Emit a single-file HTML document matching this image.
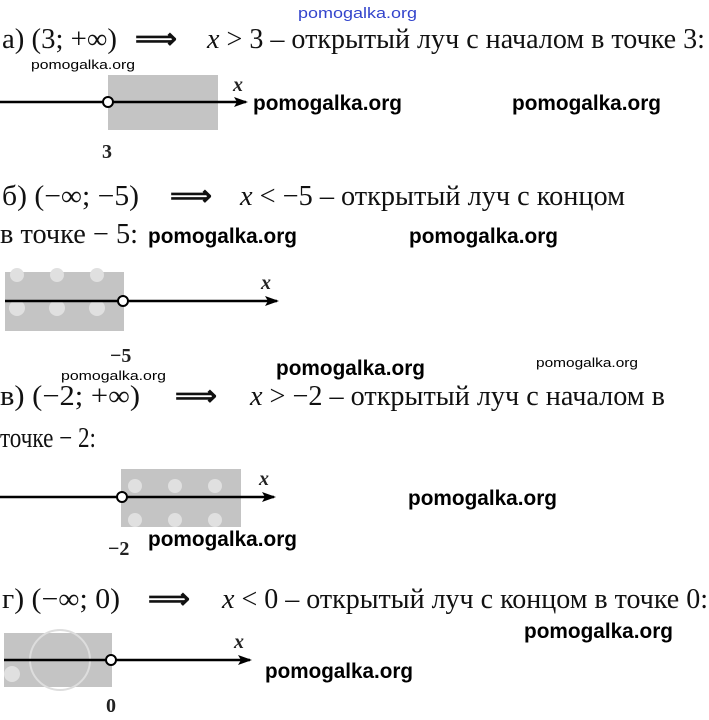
<!DOCTYPE html>
<html><head><meta charset="utf-8"><style>
html,body{margin:0;padding:0;background:#fff;width:709px;height:720px;overflow:hidden}
svg{display:block}
.t{font-family:"Liberation Serif",serif;font-size:28px;fill:#111}
.w{font-family:"Liberation Sans",sans-serif;font-size:21px;font-weight:bold;fill:#000}
.s{font-family:"Liberation Sans",sans-serif;font-size:13px;fill:#000}
.m{font-family:"Liberation Serif",serif;font-size:20px;font-style:italic;font-weight:bold;fill:#222}
.n{font-family:"Liberation Serif",serif;font-size:20px;font-weight:bold;fill:#222}
</style></head><body>
<svg width="709" height="720" xmlns="http://www.w3.org/2000/svg">
<defs><marker id="ar" markerWidth="14" markerHeight="10" refX="12" refY="5" orient="auto" markerUnits="userSpaceOnUse"><path d="M0,0 L14,5 L0,10 L3,5z" fill="#000"/></marker></defs>
<text x="298" y="18" font-family="Liberation Sans,sans-serif" font-size="15" fill="#3344cc" textLength="119" lengthAdjust="spacingAndGlyphs">pomogalka.org</text>

<!-- a -->
<text class="t" x="2" y="48" textLength="115" lengthAdjust="spacingAndGlyphs">а) (3; +∞)</text>
<text class="t" x="135" y="48" textLength="42" lengthAdjust="spacingAndGlyphs" font-weight="bold">⟹</text>
<text class="t" x="207" y="48" textLength="498" lengthAdjust="spacingAndGlyphs"><tspan font-style="italic">x</tspan> &gt; 3 – открытый луч с началом в точке 3:</text>
<text class="s" x="31" y="69" textLength="104" lengthAdjust="spacingAndGlyphs">pomogalka.org</text>
<rect x="108" y="75" width="110" height="55" fill="#c4c4c4"/>
<line x1="0" y1="102" x2="246" y2="102" stroke="#000" stroke-width="2.5" marker-end="url(#ar)"/>
<circle cx="108" cy="102" r="5" fill="#fff" stroke="#000" stroke-width="2"/>
<text class="m" x="233" y="91">x</text>
<text class="n" x="102" y="158">3</text>
<text class="w" x="253" y="110" textLength="149" lengthAdjust="spacingAndGlyphs">pomogalka.org</text>
<text class="w" x="512" y="110" textLength="149" lengthAdjust="spacingAndGlyphs">pomogalka.org</text>

<!-- b -->
<text class="t" x="2" y="205" textLength="137" lengthAdjust="spacingAndGlyphs">б) (−∞; −5)</text>
<text class="t" x="170" y="205" textLength="42" lengthAdjust="spacingAndGlyphs" font-weight="bold">⟹</text>
<text class="t" x="240" y="205" textLength="385" lengthAdjust="spacingAndGlyphs"><tspan font-style="italic">x</tspan> &lt; −5 – открытый луч с концом</text>
<text class="t" x="0" y="243" textLength="138" lengthAdjust="spacingAndGlyphs">в точке − 5:</text>
<text class="w" x="148" y="243" textLength="149" lengthAdjust="spacingAndGlyphs">pomogalka.org</text>
<text class="w" x="409" y="243" textLength="149" lengthAdjust="spacingAndGlyphs">pomogalka.org</text>
<rect x="5" y="272" width="119" height="59" fill="#c4c4c4"/>
<g fill="#e0e0e0"><circle cx="17" cy="275" r="7"/><circle cx="57" cy="275" r="7"/><circle cx="97" cy="275" r="7"/><circle cx="17" cy="308" r="8"/><circle cx="57" cy="308" r="8"/><circle cx="97" cy="308" r="8"/></g>
<line x1="5" y1="301" x2="277" y2="301" stroke="#000" stroke-width="2.5" marker-end="url(#ar)"/>
<circle cx="123" cy="301" r="5" fill="#fff" stroke="#000" stroke-width="2"/>
<text class="m" x="261" y="289">x</text>
<text class="n" x="110" y="362">−5</text>
<text class="w" x="276" y="375" textLength="149" lengthAdjust="spacingAndGlyphs">pomogalka.org</text>
<text class="s" x="536" y="367" textLength="102" lengthAdjust="spacingAndGlyphs">pomogalka.org</text>
<text class="s" x="61" y="380" textLength="105" lengthAdjust="spacingAndGlyphs">pomogalka.org</text>

<!-- c -->
<text class="t" x="0" y="405" textLength="140" lengthAdjust="spacingAndGlyphs">в) (−2; +∞)</text>
<text class="t" x="175" y="405" textLength="42" lengthAdjust="spacingAndGlyphs" font-weight="bold">⟹</text>
<text class="t" x="250" y="405" textLength="415" lengthAdjust="spacingAndGlyphs"><tspan font-style="italic">x</tspan> &gt; −2 – открытый луч с началом в</text>
<text class="t" x="0" y="447" textLength="96" lengthAdjust="spacingAndGlyphs">точке − 2:</text>
<rect x="121" y="469" width="120" height="58" fill="#c4c4c4"/>
<g fill="#e0e0e0"><circle cx="135" cy="486" r="7"/><circle cx="175" cy="486" r="7"/><circle cx="215" cy="486" r="7"/><circle cx="135" cy="520" r="7"/><circle cx="175" cy="520" r="7"/><circle cx="215" cy="520" r="7"/></g>
<line x1="0" y1="497" x2="274" y2="497" stroke="#000" stroke-width="2.5" marker-end="url(#ar)"/>
<circle cx="122" cy="497" r="5" fill="#fff" stroke="#000" stroke-width="2"/>
<text class="m" x="259" y="485">x</text>
<text class="n" x="108" y="555">−2</text>
<text class="w" x="408" y="505" textLength="149" lengthAdjust="spacingAndGlyphs">pomogalka.org</text>
<text class="w" x="148" y="546" textLength="149" lengthAdjust="spacingAndGlyphs">pomogalka.org</text>

<!-- d -->
<text class="t" x="2" y="608" textLength="118" lengthAdjust="spacingAndGlyphs">г) (−∞; 0)</text>
<text class="t" x="148" y="608" textLength="42" lengthAdjust="spacingAndGlyphs" font-weight="bold">⟹</text>
<text class="t" x="222" y="608" textLength="486" lengthAdjust="spacingAndGlyphs"><tspan font-style="italic">x</tspan> &lt; 0 – открытый луч с концом в точке 0:</text>
<text class="w" x="524" y="638" textLength="149" lengthAdjust="spacingAndGlyphs">pomogalka.org</text>
<rect x="4" y="633" width="108" height="54" fill="#c4c4c4"/>
<circle cx="60" cy="660" r="30" fill="none" stroke="#ddd" stroke-width="2"/>
<circle cx="12" cy="674" r="8" fill="#e0e0e0"/>
<line x1="4" y1="660" x2="250" y2="660" stroke="#000" stroke-width="2.5" marker-end="url(#ar)"/>
<circle cx="111" cy="660" r="5" fill="#fff" stroke="#000" stroke-width="2"/>
<text class="m" x="234" y="648">x</text>
<text class="n" x="106" y="712">0</text>
<text class="w" x="265" y="678" textLength="148" lengthAdjust="spacingAndGlyphs">pomogalka.org</text>
</svg>
</body></html>
